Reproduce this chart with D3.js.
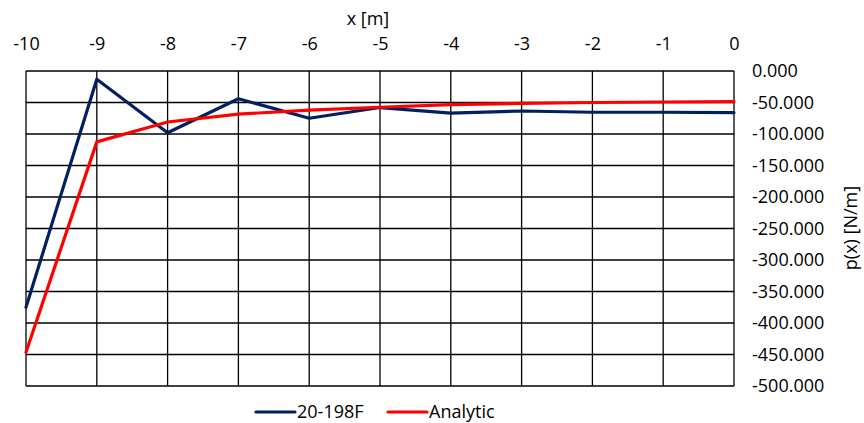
<!DOCTYPE html>
<html>
<head>
<meta charset="utf-8">
<script src="https://cdn.jsdelivr.net/npm/d3@7"></script>
<style>
    body { margin: 0; background: #fff; }
    svg text { font-family: "Open Sans", sans-serif; fill: #000; }
</style>
</head>
<body>
<div id="chart"></div>
<script>
// ——— DATA —————————————————————————————————————————————————————————
const xValues = [-10, -9, -8, -7, -6, -5, -4, -3, -2, -1, 0];
const measured = [-375, -13, -98, -44, -75, -58, -67, -63.5, -65.5, -65.5, -66];
const analytic = [-446.5, -112.5, -81, -68.5, -62, -57.5, -53.5, -51.5, -50, -49.2, -48.7];
const yTicks = [0, -50, -100, -150, -200, -250, -300, -350, -400, -450, -500];
const seriesNames = ["20-198F", "Analytic"];
const seriesColors = ["#002060", "#ff0000"];

const width = 864;
const height = 423;
const plot = { left: 26, right: 734, top: 71, bottom: 386 };
const fontSize = "18px";

const svg = d3.select("#chart").append("svg")
    .attr("width", width)
    .attr("height", height);

// ——— SCALES ————————————————————————————————————————————————————————
const xScale = d3.scaleLinear().domain([-10, 0]).range([plot.left, plot.right]);
const yScale = d3.scaleLinear().domain([-500, 0]).range([plot.bottom, plot.top]);

// ——— GRID ——————————————————————————————————————————————————————————
const grid = svg.append("g");
grid.selectAll(".vgrid")
    .data(xValues)
    .enter().append("line")
    .attr("x1", (d) => xScale(d)).attr("x2", (d) => xScale(d))
    .attr("y1", plot.top).attr("y2", plot.bottom)
    .attr("stroke", "#000").attr("stroke-width", 1.3);
grid.selectAll(".hgrid")
    .data(yTicks)
    .enter().append("line")
    .attr("x1", plot.left).attr("x2", plot.right)
    .attr("y1", (d) => yScale(d)).attr("y2", (d) => yScale(d))
    .attr("stroke", "#000").attr("stroke-width", 1.3);

// ——— AXES ——————————————————————————————————————————————————————————
const xaxis = d3.axisTop(xScale)
    .tickValues(xValues)
    .tickSize(0)
    .tickPadding(0)
    .tickFormat((d) => String(d));
const gx = svg.append("g")
    .attr("transform", "translate(0,44)")
    .call(xaxis);
gx.select(".domain").remove();
gx.selectAll("text")
    .attr("y", 0)
    .attr("dy", "0.35em")
    .style("font-size", fontSize);

const yaxis = d3.axisRight(yScale)
    .tickValues(yTicks)
    .tickSize(0)
    .tickPadding(0)
    .tickFormat((d) => d3.format(".3f")(d).replace("−", "-"));
const gy = svg.append("g")
    .attr("transform", "translate(752,0)")
    .call(yaxis);
gy.select(".domain").remove();
gy.selectAll("text")
    .style("font-size", fontSize);

svg.append("text")
    .attr("x", 368).attr("y", 19)
    .attr("dy", "0.35em")
    .attr("text-anchor", "middle")
    .style("font-size", fontSize)
    .text("x [m]");

svg.append("text")
    .attr("transform", "translate(851,228) rotate(-90)")
    .attr("dy", "0.35em")
    .attr("text-anchor", "middle")
    .style("font-size", fontSize)
    .text("p(x) [N/m]");

// ——— LINES —————————————————————————————————————————————————————————
const line = d3.line()
    .x((d, i) => xScale(xValues[i]))
    .y((d) => yScale(d));

[measured, analytic].forEach((vals, i) => {
    svg.append("path")
        .attr("d", line(vals))
        .attr("fill", "none")
        .attr("stroke", seriesColors[i])
        .attr("stroke-width", 3.2)
        .attr("stroke-linejoin", "round")
        .attr("stroke-linecap", "round");
});

// ——— LEGEND ————————————————————————————————————————————————————————
const legendX = [256, 388];
seriesNames.forEach((name, i) => {
    const g = svg.append("g").attr("transform", `translate(${legendX[i]},412)`);
    g.append("line")
        .attr("x1", 0).attr("x2", 39)
        .attr("stroke", seriesColors[i])
        .attr("stroke-width", 3.2)
        .attr("stroke-linecap", "round");
    g.append("text")
        .attr("x", 41)
        .attr("dy", "0.35em")
        .style("font-size", fontSize)
        .text(name);
});
</script>
</body>
</html>
